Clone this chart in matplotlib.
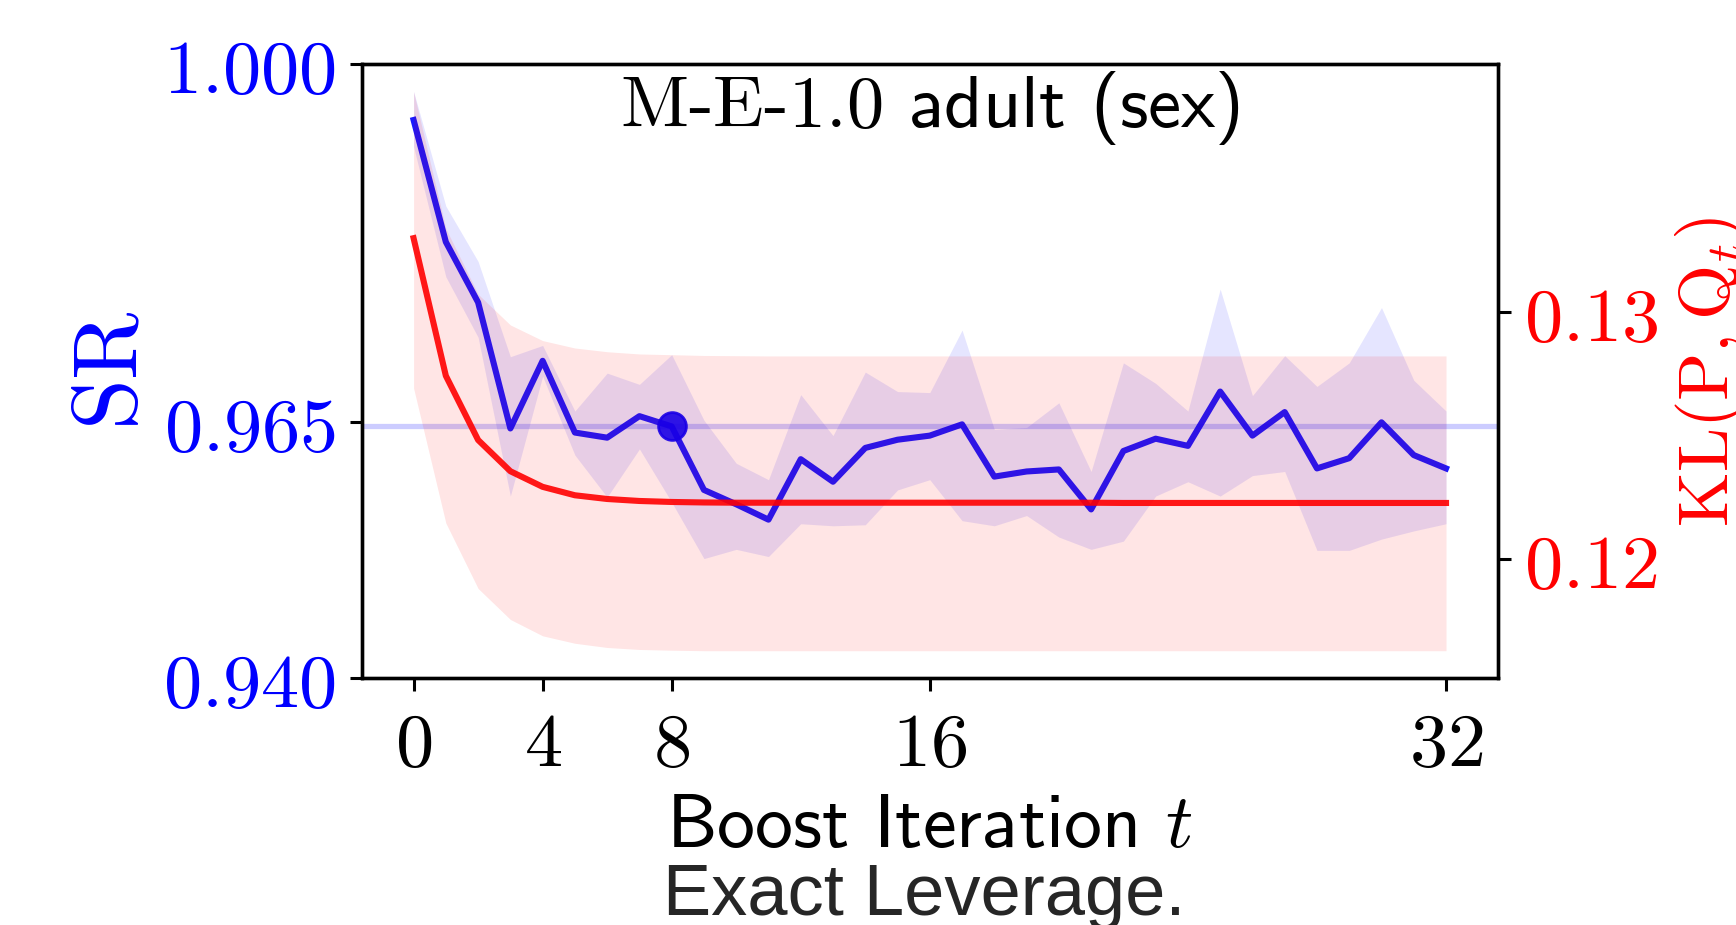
import matplotlib
matplotlib.use('Agg')
import matplotlib.pyplot as plt
import numpy as np

plt.rcParams['mathtext.fontset'] = 'cm'

# --- data (boost iterations 0..32)
iters = np.arange(33)

sr_mean = [0.9945, 0.9826, 0.9767, 0.9644, 0.9710, 0.9640, 0.9635, 0.9656, 0.9646,
           0.9584, 0.9570, 0.9555, 0.9614, 0.9592, 0.9625, 0.9633, 0.9637, 0.9648,
           0.9597, 0.9602, 0.9604, 0.9565, 0.9622, 0.9634, 0.9627, 0.9680, 0.9637,
           0.9660, 0.9605, 0.9615, 0.9650, 0.9618, 0.9605]
sr_hi = [0.9973, 0.9861, 0.9807, 0.9714, 0.9725, 0.9661, 0.9698, 0.9687, 0.9716,
         0.9652, 0.9610, 0.9594, 0.9677, 0.9637, 0.9699, 0.9680, 0.9679, 0.9740,
         0.9643, 0.9645, 0.9669, 0.9602, 0.9708, 0.9688, 0.9661, 0.9780, 0.9676,
         0.9715, 0.9685, 0.9708, 0.9762, 0.9691, 0.9661]
sr_lo = [0.9919, 0.9792, 0.9733, 0.9578, 0.9695, 0.9618, 0.9577, 0.9624, 0.9572,
         0.9517, 0.9526, 0.9519, 0.9551, 0.9549, 0.9550, 0.9584, 0.9594, 0.9554,
         0.9549, 0.9559, 0.9538, 0.9526, 0.9534, 0.9578, 0.9592, 0.9578, 0.9598,
         0.9602, 0.9525, 0.9525, 0.9536, 0.9544, 0.9551]

kl_mean = [0.13296, 0.12741, 0.12482, 0.12356, 0.12293, 0.12259, 0.12244, 0.12236,
           0.12232, 0.12230, 0.12229, 0.12229, 0.12229, 0.12229, 0.12229, 0.12229,
           0.12229, 0.12229, 0.12229, 0.12229, 0.12229, 0.12229, 0.12228, 0.12228,
           0.12228, 0.12228, 0.12228, 0.12228, 0.12228, 0.12228, 0.12228, 0.12228,
           0.12228]
kl_hi = [0.13887, 0.13335, 0.13070, 0.12946, 0.12883, 0.12853, 0.12838, 0.12829,
         0.12826, 0.12823, 0.12822, 0.12821, 0.12821, 0.12821, 0.12821, 0.12821,
         0.12821, 0.12821, 0.12821, 0.12821, 0.12821, 0.12821, 0.12821, 0.12821,
         0.12821, 0.12821, 0.12821, 0.12821, 0.12821, 0.12821, 0.12821, 0.12821,
         0.12821]
kl_lo = [0.12691, 0.12147, 0.11883, 0.11758, 0.11692, 0.11662, 0.11645, 0.11637,
         0.11634, 0.11632, 0.11632, 0.11632, 0.11632, 0.11632, 0.11632, 0.11632,
         0.11632, 0.11632, 0.11632, 0.11632, 0.11632, 0.11632, 0.11632, 0.11632,
         0.11632, 0.11632, 0.11632, 0.11632, 0.11632, 0.11632, 0.11632, 0.11632,
         0.11632]

best_t = 8

x_ticks = [0, 4, 8, 16, 32]
sr_ticks = [0.940, 0.965, 1.000]
sr_ticklabels = ['0.940', '0.965', '1.000']
kl_ticks = [0.12, 0.13]
kl_ticklabels = ['0.12', '0.13']

title = r'$\mathrm{M}$-$\mathrm{E}$-$\mathrm{1.0}$ adult (sex)'

# ----------------------------------------------------------------------
fig = plt.figure(figsize=(8.68, 4.625), dpi=200)
ax = fig.add_axes([0.2085, 0.2665, 0.6542, 0.6647])
ax2 = ax.twinx()

fs = 27.5

# --- SR (left axis)
ax.fill_between(iters, sr_lo, sr_hi, color='blue', alpha=0.1, lw=0)
ax.axhline(sr_mean[best_t], color='blue', alpha=0.2, lw=1.9)
ax.plot(iters, sr_mean, color='blue', alpha=0.9, lw=2.2)
ax.plot(iters[best_t], sr_mean[best_t], 'o', color='blue', alpha=0.9, ms=10)

# --- KL (right axis)
ax2.fill_between(iters, kl_lo, kl_hi, color='red', alpha=0.1, lw=0)
ax2.plot(iters, kl_mean, color='red', alpha=0.9, lw=2.2)

ax.set_xlim(-1.6, 33.6)
ax.set_ylim(0.94, 1.0)
ax2.set_ylim(0.1152, 0.14)

ax.set_xticks(x_ticks)
ax.set_xticklabels([f'${v}$' for v in x_ticks])
ax.set_yticks(sr_ticks)
ax.set_yticklabels([f'${s}$' for s in sr_ticklabels])
ax2.set_yticks(kl_ticks)
ax2.set_yticklabels([f'${s}$' for s in kl_ticklabels])

ax.tick_params(axis='x', labelsize=fs, length=4.5, width=1.1, pad=6)
ax.tick_params(axis='y', labelsize=fs, labelcolor='blue', length=4.5, width=1.1, pad=5)
ax2.tick_params(axis='y', labelsize=fs, labelcolor='red', length=4.5, width=1.1, pad=5)

for a in (ax, ax2):
    for s in a.spines.values():
        s.set_linewidth(1.2)

ax2.text(0.5, 0.897, title, transform=ax.transAxes, ha='center', va='baseline',
         fontsize=26.8, family='cmss10')

fig.text(0.0904, 0.6, r'$\mathrm{SR}$', color='blue', fontsize=33, rotation=90,
         ha='right', va='center')
fig.text(0.9637, 0.598, r'$\mathrm{KL}(\mathrm{P},\mathrm{Q}_t)$', color='red',
         fontsize=25.5, rotation=90, ha='left', va='center')

fig.text(0.5357, 0.0843, r'Boost Iteration $t$', ha='center', va='baseline',
         fontsize=27.3, family='cmss10')
fig.text(0.5326, 0.0105, 'Exact Leverage.', ha='center', va='baseline',
         fontsize=26, family='Liberation Sans', color='#262626')

fig.savefig('out.png', dpi=200)
